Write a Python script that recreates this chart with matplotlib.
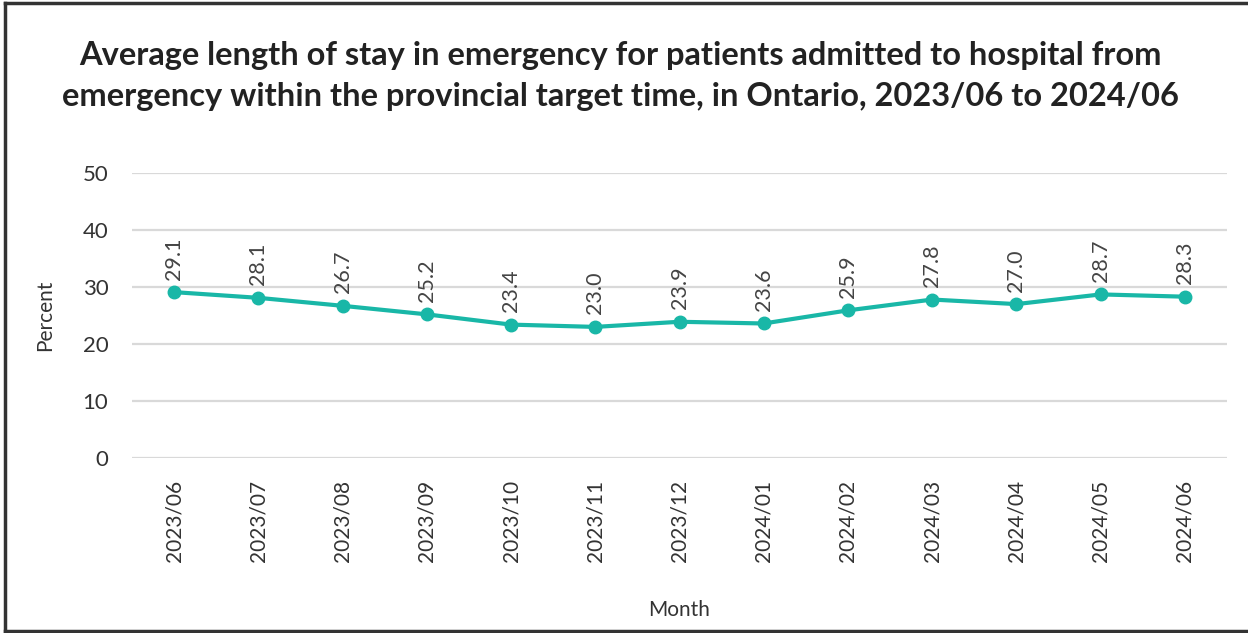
import matplotlib.pyplot as plt

months = ['2023/06', '2023/07', '2023/08', '2023/09', '2023/10', '2023/11', '2023/12',
          '2024/01', '2024/02', '2024/03', '2024/04', '2024/05', '2024/06']
percent = [29.1, 28.1, 26.7, 25.2, 23.4, 23.0, 23.9, 23.6, 25.9, 27.8, 27.0, 28.7, 28.3]
yticks = [0, 10, 20, 30, 40, 50]

title = ('Average length of stay in emergency for patients admitted to hospital from\n'
         'emergency within the provincial target time, in Ontario, 2023/06 to 2024/06')

plt.rcParams['font.family'] = ['Lato', 'DejaVu Sans']

W, H = 1248, 633
fig = plt.figure(figsize=(W / 100, H / 100), dpi=100)
ax = fig.add_axes([132 / W, 1 - 458 / H, (1227 - 132) / W, (458 - 173) / H])

teal = '#19b7a7'
x = list(range(len(months)))
ax.plot(x, percent, color=teal, lw=3, marker='o', ms=9, zorder=3, solid_capstyle='round')
for xi, v in zip(x, percent):
    ax.annotate(f'{v:.1f}', (xi, v), xytext=(0, 9), textcoords='offset points',
                rotation=90, ha='center', va='bottom', fontsize=15.5, color='#444444')

ax.set_xlim(-0.5, len(months) - 0.5)
ax.set_ylim(0, 50)
ax.set_yticks(yticks)
ax.set_xticks(x)
ax.set_xticklabels(months, rotation=90, fontsize=15, color='#333333')
ax.tick_params(axis='y', labelsize=16, labelcolor='#333333', length=0, pad=17)
ax.tick_params(axis='x', length=0, pad=16)
ax.grid(axis='y', color='#d9d9d9', lw=1.6)
ax.set_axisbelow(True)
for s in ax.spines.values():
    s.set_visible(False)

ax.set_ylabel('Percent', fontsize=15, color='#333333', labelpad=20)
fig.text(679 / W, 1 - 610 / H, 'Month', fontsize=15, color='#333333',
         ha='center', va='center')

fig.text(620 / W, 1 - 76 / H, title, fontsize=23.5, fontweight='bold', color='#222222',
         ha='center', va='center', linespacing=1.5)

# frame around the figure (left, top, bottom edges)
fig.add_artist(plt.Line2D([5 / W, 5 / W], [1 - 3 / H, 1 - 631 / H], color='#333333', lw=2.5))
fig.add_artist(plt.Line2D([5 / W, 1], [1 - 3 / H, 1 - 3 / H], color='#333333', lw=2.5))
fig.add_artist(plt.Line2D([5 / W, 1], [1 - 631 / H, 1 - 631 / H], color='#333333', lw=2.5))

fig.savefig('out.png', dpi=100)
